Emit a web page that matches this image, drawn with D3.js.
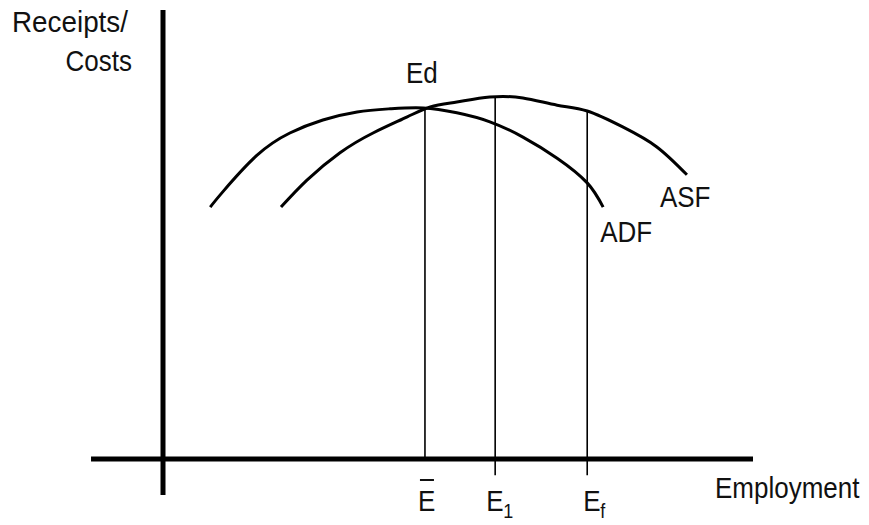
<!DOCTYPE html>
<html>
<head>
<meta charset="utf-8">
<script src="https://cdn.jsdelivr.net/npm/d3@7"></script>
<style>
    body { margin: 0; background: #fff; }
    #chart text { font-family: "Liberation Sans", Arial, sans-serif; fill: #111; }
</style>
</head>
<body>
<div id="chart"></div>
<script>
// values (employment / receipts in 0..100 units)
const adfX = [8.0, 10.2, 15.9, 21.5, 27.1, 32.9, 38.5, 44.1, 49.8, 55.4, 61.0, 66.8, 71.9, 74.6];
const adfY = [56.1, 59.6, 67.6, 72.6, 75.5, 77.3, 78.0, 78.2, 77.1, 75.1, 71.7, 67.0, 61.5, 56.1];

const asfX = [20.0, 24.4, 30.0, 35.6, 41.4, 45.3, 49.8, 55.4, 61.0, 66.8, 71.9, 78.0, 83.7, 88.8];
const asfY = [56.1, 62.1, 68.2, 72.6, 76.2, 78.4, 79.5, 80.6, 80.4, 78.8, 77.5, 73.9, 69.5, 63.3];

const dropNames = ["E", "E", "E"];
const dropSubs = ["", "1", "f"];
const dropBar = [true, false, false];
const dropX = [44.4, 56.3, 71.9];
const dropTop = [78.2, 80.6, 77.5];

const curveNames = ["ADF", "ASF"];
const yLabel = ["Receipts/", "Costs"];
const xLabel = "Employment";
const pointLabel = "Ed";

const width = 869, height = 525;
const stretch = 1.12; // the text in the original is a bit taller than wide

const x = d3.scaleLinear().domain([0, 100]).range([163, 753]);
const y = d3.scaleLinear().domain([0, 100]).range([459, 10]);

const svg = d3.select("#chart")
    .append("svg")
    .attr("width", width)
    .attr("height", height);

function addText(str, px, py, size, anchor) {
    return svg.append("text")
        .attr("transform", `translate(${px}, ${py}) scale(1, ${stretch})`)
        .attr("text-anchor", anchor || "start")
        .style("font-size", size + "px")
        .text(str);
}

// axes, crossing at the origin and running a bit past it
svg.append("line")
    .attr("x1", x(0)).attr("x2", x(0))
    .attr("y1", y(-8)).attr("y2", y(100))
    .attr("stroke", "#000").attr("stroke-width", 5);

svg.append("line")
    .attr("x1", x(-12.2)).attr("x2", x(100))
    .attr("y1", y(0)).attr("y2", y(0))
    .attr("stroke", "#000").attr("stroke-width", 5);

// drop lines from the curves down to the axis (E1 and Ef poke through)
const drops = dropX.map((d, i) => ({ x: d, top: dropTop[i], name: dropNames[i], sub: dropSubs[i], bar: dropBar[i] }));
const dropDx = [-7, -9, -4];

svg.selectAll(".drop")
    .data(drops)
    .enter().append("line")
    .attr("class", "drop")
    .attr("x1", d => x(d.x)).attr("x2", d => x(d.x))
    .attr("y1", d => y(d.top))
    .attr("y2", d => d.bar ? y(0) : y(-3.6))
    .attr("stroke", "#000").attr("stroke-width", 1.6);

// curves
const line = d3.line()
    .x(d => x(d[0]))
    .y(d => y(d[1]))
    .curve(d3.curveNatural);

const adf = adfX.map((d, i) => [d, adfY[i]]);
const asf = asfX.map((d, i) => [d, asfY[i]]);

svg.selectAll(".curve")
    .data([adf, asf])
    .enter().append("path")
    .attr("class", "curve")
    .attr("d", line)
    .attr("fill", "none")
    .attr("stroke", "#000")
    .attr("stroke-width", 3);

// labels
const yl = addText(yLabel[0], 12, 32, 26);
yl.attr("textLength", 116).attr("lengthAdjust", "spacingAndGlyphs");
addText(yLabel[1], 132, 71, 26, "end");
addText(xLabel, 715, 498, 26);

const adfEnd = adf[adf.length - 1], asfEnd = asf[asf.length - 1];
addText(curveNames[0], x(adfEnd[0]) - 3, y(adfEnd[1]) + 35, 26);
addText(curveNames[1], x(asfEnd[0]) - 27, y(asfEnd[1]) + 32, 26);

addText(pointLabel, x(dropX[0]) - 19, 83, 26);

drops.forEach((d, i) => {
    const px = x(d.x) + dropDx[i];
    addText(d.name, px, 511, 26);
    if (d.sub) {
        addText(d.sub, px + 17, 518, 18);
    }
    if (d.bar) {
        svg.append("line")
            .attr("x1", px + 2).attr("x2", px + 16)
            .attr("y1", 480).attr("y2", 480)
            .attr("stroke", "#111").attr("stroke-width", 2);
    }
});
</script>
</body>
</html>
